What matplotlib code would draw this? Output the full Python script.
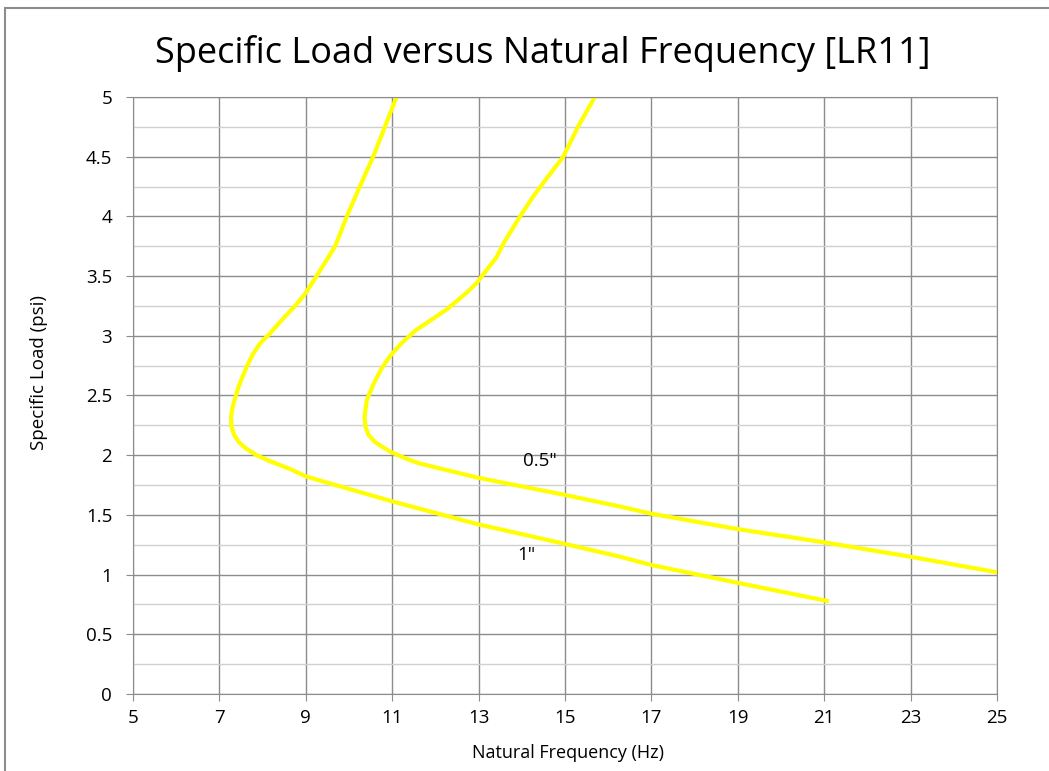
import matplotlib.pyplot as plt
from matplotlib.patches import Rectangle
import numpy as np

# 1" curve
x1 = [11.1, 10.83, 10.56, 10.25, 9.95, 9.68, 9.25, 9.0, 8.8, 8.44, 8.17, 7.95, 7.78, 7.63,
      7.44, 7.31, 7.27, 7.28, 7.34, 7.45, 7.60, 7.86, 8.17, 8.63, 9.02, 11.03, 13.0,
      14.96, 16.27, 17.0, 19.01, 21.06]
y1 = [5.0, 4.75, 4.5, 4.25, 4.0, 3.75, 3.5, 3.36, 3.27, 3.13, 3.02, 2.94, 2.85, 2.74,
      2.57, 2.41, 2.32, 2.24, 2.17, 2.11, 2.06, 2.00, 1.95, 1.885, 1.82, 1.61, 1.42,
      1.26, 1.15, 1.08, 0.93, 0.78]

# 0.5" curve
x2 = [15.69, 15.3, 14.96, 14.6, 14.27, 13.96, 13.57, 13.42, 12.95, 12.72, 12.26, 11.85,
      11.56, 11.22, 10.95, 10.76, 10.56, 10.41, 10.36, 10.38, 10.45, 10.60, 10.95, 11.33,
      11.64, 13.0, 14.96, 16.27, 17.0, 19.01, 21.0, 22.99, 24.99]
y2 = [5.0, 4.75, 4.5, 4.33, 4.17, 4.0, 3.77, 3.66, 3.44, 3.36, 3.22, 3.12,
      3.05, 2.94, 2.83, 2.73, 2.59, 2.46, 2.32, 2.24, 2.17, 2.11, 2.03, 1.97,
      1.93, 1.81, 1.67, 1.57, 1.51, 1.38, 1.27, 1.15, 1.02]

yticks = np.arange(0, 5.01, 0.5)
ylabels = ['0', '0.5', '1', '1.5', '2', '2.5', '3', '3.5', '4', '4.5', '5']

plt.rcParams['font.family'] = ['Open Sans', 'DejaVu Sans']

fig = plt.figure(figsize=(10.49, 7.71), dpi=100)
ax = fig.add_axes([0.1268, 0.0999, 0.8236, 0.7743])

ax.plot(x1, y1, color='#ffff00', lw=3, solid_joinstyle='round')
ax.plot(x2, y2, color='#ffff00', lw=3, solid_joinstyle='round')

ax.text(14.43, 1.95, '0.5"', fontsize=13.5, ha='center', va='center')
ax.text(14.10, 1.16, '1"', fontsize=13.5, ha='center', va='center')

ax.set_xlim(5, 25)
ax.set_ylim(0, 5)
ax.set_xticks(np.arange(5, 26, 2))
ax.set_yticks(yticks)
ax.set_yticklabels(ylabels)
ax.set_yticks(np.arange(0.25, 5, 0.5), minor=True)
ax.grid(True, which='major', color='#8c8c8c', lw=1)
ax.grid(True, which='minor', axis='y', color='#d0d0d0', lw=1)
ax.tick_params(which='major', direction='out', length=5, color='#8c8c8c', labelsize=13.5)
ax.tick_params(axis='y', pad=10)
ax.tick_params(axis='x', pad=6)
ax.tick_params(which='minor', length=0)
for s in ax.spines.values():
    s.set_color('#8c8c8c')
ax.set_axisbelow(True)

ax.set_xlabel('Natural Frequency (Hz)', fontsize=13)
ax.set_ylabel('Specific Load (psi)', fontsize=13.5)
ax.xaxis.set_label_coords(0.503, -0.083)
ax.yaxis.set_label_coords(-0.098, 0.538)
fig.text(0.517, 0.918, 'Specific Load versus Natural Frequency [LR11]', fontsize=26,
         ha='center', va='baseline')

fig.patches.append(Rectangle((5 / 1049, -0.5), 2, 1.5 - 8 / 771, transform=fig.transFigure,
                             fill=False, edgecolor='#8c8c8c', lw=1.5))

fig.savefig('out.png')
